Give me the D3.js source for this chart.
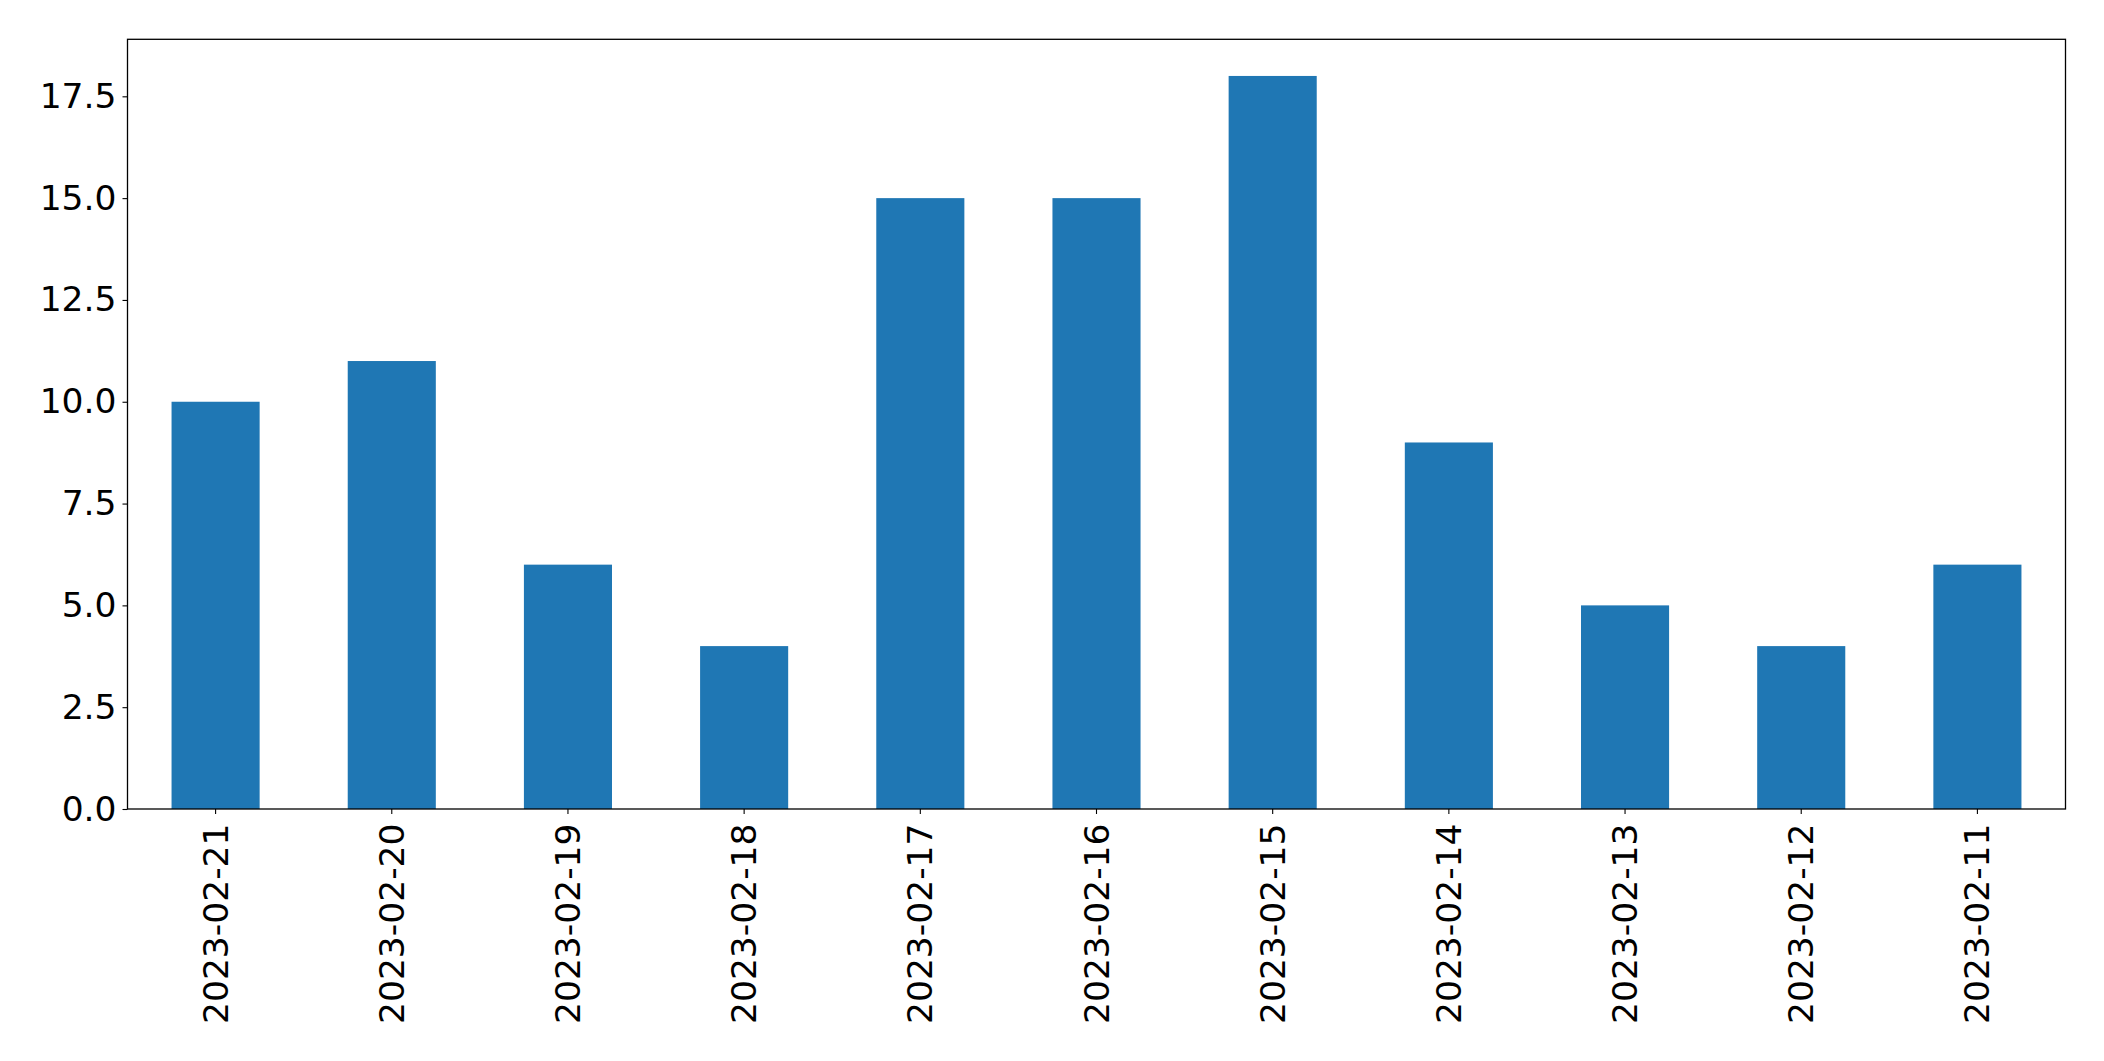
<!DOCTYPE html>
<html>
<head>
<meta charset="utf-8">
<script src="https://cdn.jsdelivr.net/npm/d3@7"></script>
<style>
  html, body { margin: 0; padding: 0; background: #fff; }
  svg { display: block; }
</style>
</head>
<body>
<svg id="chart" width="2104" height="1061"></svg>
<script>
const categories = ["2023-02-21","2023-02-20","2023-02-19","2023-02-18","2023-02-17","2023-02-16","2023-02-15","2023-02-14","2023-02-13","2023-02-12","2023-02-11"];
const values = [10, 11, 6, 4, 15, 15, 18, 9, 5, 4, 6];
const yTicks = [0, 2.5, 5, 7.5, 10, 12.5, 15, 17.5];

const W = 2104, H = 1061;
const margin = {left: 127.5, right: 2065.5, top: 39.3, bottom: 809};
const svg = d3.select("#chart");
const font = "'DejaVu Sans', sans-serif";
const fs = 34.5;

const x = d3.scaleBand().domain(categories).range([margin.left, margin.right])
  .paddingInner(0.5).paddingOuter(0.25);
const y = d3.scaleLinear().domain([0, 18.9]).range([margin.bottom, margin.top]);

svg.append("g").selectAll("rect").data(values).join("rect")
  .attr("x", (d, i) => x(categories[i]))
  .attr("width", x.bandwidth())
  .attr("y", d => y(d))
  .attr("height", d => y(0) - y(d))
  .attr("fill", "#1f77b4");

const yAxis = svg.append("g").attr("transform", `translate(${margin.left},0)`)
  .call(d3.axisLeft(y).tickValues(yTicks).tickFormat(d3.format(".1f")).tickSize(5).tickPadding(6));
yAxis.select(".domain").remove();
yAxis.selectAll("line").attr("stroke", "#000").attr("stroke-width", 1.1);
yAxis.selectAll("text").attr("font-family", font).attr("font-size", fs).attr("fill", "#000");

const xAxis = svg.append("g").attr("transform", `translate(0,${margin.bottom})`)
  .call(d3.axisBottom(x).tickSize(5).tickPadding(0));
xAxis.select(".domain").remove();
xAxis.selectAll("line").attr("stroke", "#000").attr("stroke-width", 1.1);
xAxis.selectAll("text")
  .attr("font-family", font).attr("font-size", fs).attr("fill", "#000")
  .attr("transform", "translate(0,14.5) rotate(-90)")
  .attr("text-anchor", "end")
  .attr("dy", "0.35em")
  .attr("x", 0).attr("y", 0);

svg.append("rect")
  .attr("x", margin.left).attr("y", margin.top)
  .attr("width", margin.right - margin.left).attr("height", margin.bottom - margin.top)
  .attr("fill", "none").attr("stroke", "#000").attr("stroke-width", 1.3);
</script>
</body>
</html>
